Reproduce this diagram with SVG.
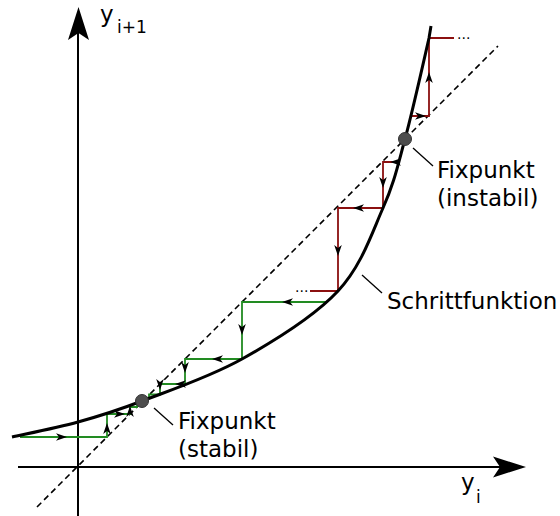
<svg xmlns="http://www.w3.org/2000/svg" xmlns:xlink="http://www.w3.org/1999/xlink" width="560" height="516" viewBox="0 0 560 516">
<style>
.axis{stroke:#000;stroke-width:2;fill:none}
.diag{stroke:#000;stroke-width:1.6;stroke-dasharray:6,4;fill:none}
.curve{stroke:#000;stroke-width:3;fill:none}
.g{stroke:#228b22;stroke-width:1.8;fill:none}
.r{stroke:#8b1010;stroke-width:1.8;fill:none}
.lead{stroke:#000;stroke-width:1.3;fill:none}
.fp{fill:#4d4d4d;stroke:#333;stroke-width:1}
text{font-family:"DejaVu Sans","Liberation Sans",sans-serif;fill:#000}
.lbl{font-size:23px}
.ax{font-size:23px}
.sub{font-size:17px}
.dots{font-size:14px}
</style>
<defs>
<path id="ah" d="M0,0 L-11,-3.8 L-8,0 L-11,3.8 Z" fill="#000"/>
<path id="bigah" d="M0,0 L-33,-10.5 L-26,0 L-33,10.5 Z" fill="#000"/>
</defs>

<g id="axes">
<line class="axis" x1="18" y1="467" x2="500" y2="467"/>
<use xlink:href="#bigah" transform="translate(526,467)"/>
<line class="axis" x1="78" y1="516" x2="78" y2="32"/>
<use xlink:href="#bigah" transform="translate(78.5,7) rotate(-90)"/>
</g>

<g id="diagonal">
<line class="diag" x1="37" y1="507" x2="498" y2="46"/>
</g>

<g id="connectors">
<path class="g" d="M327,302 H242 V359 H185 V384 H160 V394.5 H149 V398"/>
<path class="g" d="M20,437 H107 V414 H130 V407 H137 V404.5"/>
<path class="r" d="M310,291 H338 V208 H383 V162 H400"/>
<path class="r" d="M411,116 H429 V38 H454"/>
<use xlink:href="#ah" transform="translate(282,302) rotate(180)"/>
<use xlink:href="#ah" transform="translate(242,335) rotate(90)"/>
<use xlink:href="#ah" transform="translate(212,359) rotate(180)"/>
<use xlink:href="#ah" transform="translate(185,373) rotate(90)"/>
<use xlink:href="#ah" transform="translate(175,384) rotate(180)"/>
<use xlink:href="#ah" transform="translate(160,390) rotate(90)"/>
<use xlink:href="#ah" transform="translate(67,437)"/>
<use xlink:href="#ah" transform="translate(107,423) rotate(-90)"/>
<use xlink:href="#ah" transform="translate(125,414)"/>
<use xlink:href="#ah" transform="translate(130,406) rotate(-90)"/>
<use xlink:href="#ah" transform="translate(338,256) rotate(90)"/>
<use xlink:href="#ah" transform="translate(353,208) rotate(180)"/>
<use xlink:href="#ah" transform="translate(383,188) rotate(90)"/>
<use xlink:href="#ah" transform="translate(390,162) rotate(180)"/>
<use xlink:href="#ah" transform="translate(426,116)"/>
<use xlink:href="#ah" transform="translate(429,72) rotate(-90)"/>
<line class="lead" x1="154" y1="408" x2="173" y2="425"/>
<line class="lead" x1="413" y1="148" x2="433" y2="166"/>
<line class="lead" x1="362" y1="275" x2="382" y2="293"/>
</g>

<g id="curve">
<path class="curve" d="M12,437 C23,434.5 56.3,428 78,422 C99.7,416 114.7,411.5 142,401 C169.3,390.5 209.3,377.3 242,359 C274.7,340.7 314.5,316.2 338,291 C361.5,265.8 371.8,233.3 383,208 C394.2,182.7 397.3,167.3 405,139 C412.7,110.7 424.7,56.8 429,38 L431,26"/>
</g>

<g id="fp-stable">
<circle class="fp" cx="142" cy="401" r="6.5"/>
<text class="lbl" x="178" y="429">Fixpunkt</text>
<text class="lbl" x="178" y="457">(stabil)</text>
</g>

<g id="fp-unstable">
<circle class="fp" cx="405" cy="139" r="6.5"/>
<text class="lbl" x="437" y="178">Fixpunkt</text>
<text class="lbl" x="437" y="206">(instabil)</text>
</g>

<g id="step-function">
<text class="lbl" x="387" y="309">Schrittfunktion</text>
</g>

<g id="dots">
<text class="dots" x="295" y="292">...</text>
<text class="dots" x="457" y="39">...</text>
</g>

<g id="labels">
<text class="ax" x="100" y="22">y</text>
<text class="sub" x="117" y="33">i+1</text>
<text class="ax" x="461" y="490">y</text>
<text class="sub" x="476" y="503">i</text>
</g>
</svg>
